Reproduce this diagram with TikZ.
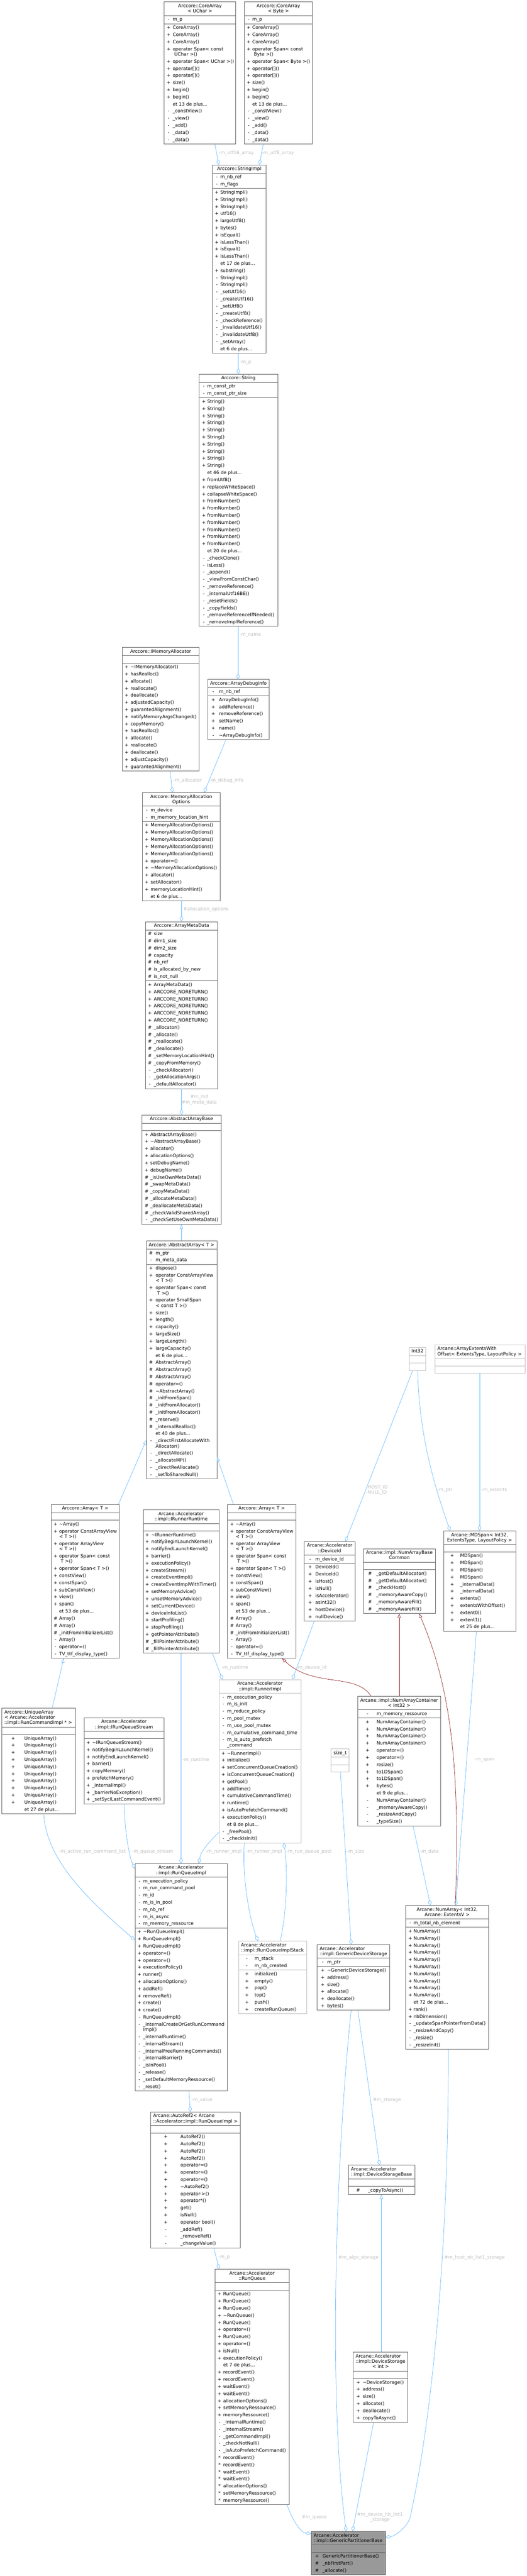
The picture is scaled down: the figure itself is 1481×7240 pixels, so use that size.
\documentclass[tikz,border=0pt]{standalone}
\usepackage{fontspec}
\setmainfont{DejaVu Sans}
\usetikzlibrary{shapes.multipart,arrows.meta}

\definecolor{edgeblue}{HTML}{63B8FF}
\definecolor{edgered}{HTML}{8B1A1A}
\definecolor{nodegray}{HTML}{666666}
\definecolor{nodelight}{HTML}{BFBFBF}
\definecolor{mainfill}{HTML}{999999}
\definecolor{lblgray}{HTML}{BEBEBE}

\newlength{\umpw}
\newcommand{\umrow}[2]{\makebox[\umpw][c]{#1}#2\\}
\newcommand{\umrowii}[3]{\makebox[\umpw][c]{#1}#2\\[-5pt]\makebox[\umpw][c]{}#3\\}
\newcommand{\umlist}[3]{\setlength{\umpw}{#2pt}\begin{tabular}{@{\hspace{#1pt}}l@{}}#3\end{tabular}}
\newcommand{\umtitle}[1]{\makebox[\linewidth][c]{\begin{tabular}{@{}c@{}}#1\end{tabular}}}
\newcommand{\umltitle}[1]{\hspace*{7pt}\begin{tabular}{@{}l@{}}#1\end{tabular}}
\newcommand{\umempty}{\rule{0pt}{18pt}}

\tikzset{
    cls/.style={rectangle split, rectangle split parts=3, draw=nodegray, line width=1pt, fill=white,
        inner xsep=0pt, inner ysep=1pt, anchor=north west, font=\fontsize{12.9}{20}\selectfont},
    clsext/.style={cls, draw=nodelight},
    clsmain/.style={cls, fill=mainfill},
    member/.style={draw=edgeblue, line width=1pt, -{Diamond[open, length=16pt, width=10pt]}},
    inherit/.style={draw=edgeblue, line width=1pt, -{Triangle[open, length=12pt, width=9pt]}},
    privinherit/.style={inherit, draw=edgered},
    lbl/.style={anchor=west, inner sep=0pt, text=lblgray, font=\fontsize{12.9}{15}\selectfont},
}

\begin{document}
\begin{tikzpicture}[x=1pt, y=-1pt]
    \path[fill=white, use as bounding box] (0,0) rectangle (1481,7240);

    \node[cls, text width=201pt] at (461,5) (coreuchar) {\umtitle{Arccore::CoreArray\\[-5pt]< UChar >}
        \nodepart{two}\umlist{1}{23}{\umrow{-}{m\_p}}
        \nodepart{three}\umlist{1}{23}{\umrow{+}{CoreArray()}\umrow{+}{CoreArray()}\umrow{+}{CoreArray()}
            \umrowii{+}{operator Span< const}{\ UChar >()}\umrow{+}{operator Span< UChar >()}
            \umrow{+}{operator[]()}\umrow{+}{operator[]()}\umrow{+}{size()}\umrow{+}{begin()}\umrow{+}{begin()}
            \umrow{}{et 13 de plus...}\umrow{-}{\_constView()}\umrow{-}{\_view()}\umrow{-}{\_add()}
            \umrow{-}{\_data()}\umrow{-}{\_data()}}};
    \node[cls, text width=190pt] at (687,5) (corebyte) {\umtitle{Arccore::CoreArray\\[-5pt]< Byte >}
        \nodepart{two}\umlist{1}{21}{\umrow{-}{m\_p}}
        \nodepart{three}\umlist{1}{21}{\umrow{+}{CoreArray()}\umrow{+}{CoreArray()}\umrow{+}{CoreArray()}
            \umrowii{+}{operator Span< const}{\ Byte >()}\umrow{+}{operator Span< Byte >()}
            \umrow{+}{operator[]()}\umrow{+}{operator[]()}\umrow{+}{size()}\umrow{+}{begin()}\umrow{+}{begin()}
            \umrow{}{et 13 de plus...}\umrow{-}{\_constView()}\umrow{-}{\_view()}\umrow{-}{\_add()}
            \umrow{-}{\_data()}\umrow{-}{\_data()}}};

    \node[cls, text width=150pt] at (597,463) (strimpl) {\umtitle{Arccore::StringImpl}
        \nodepart{two}\umlist{2}{20}{\umrow{-}{m\_nb\_ref}\umrow{-}{m\_flags}}
        \nodepart{three}\umlist{2}{20}{\umrow{+}{StringImpl()}\umrow{+}{StringImpl()}\umrow{+}{StringImpl()}
            \umrow{+}{utf16()}\umrow{+}{largeUtf8()}\umrow{+}{bytes()}\umrow{+}{isEqual()}\umrow{+}{isLessThan()}
            \umrow{+}{isEqual()}\umrow{+}{isLessThan()}\umrow{}{et 17 de plus...}\umrow{+}{substring()}
            \umrow{-}{StringImpl()}\umrow{-}{StringImpl()}\umrow{-}{\_setUtf16()}\umrow{-}{\_createUtf16()}
            \umrow{-}{\_setUtf8()}\umrow{-}{\_createUtf8()}\umrow{-}{\_checkReference()}
            \umrow{-}{\_invalidateUtf16()}\umrow{-}{\_invalidateUtf8()}\umrow{-}{\_setArray()}
            \umrow{}{et 6 de plus...}}};

    \node[cls, text width=221pt] at (559,1051) (string) {\umtitle{Arccore::String}
        \nodepart{two}\umlist{4}{19}{\umrow{-}{m\_const\_ptr}\umrow{-}{m\_const\_ptr\_size}}
        \nodepart{three}\umlist{4}{19}{\umrow{+}{String()}\umrow{+}{String()}\umrow{+}{String()}
            \umrow{+}{String()}\umrow{+}{String()}\umrow{+}{String()}\umrow{+}{String()}\umrow{+}{String()}
            \umrow{+}{String()}\umrow{+}{String()}\umrow{}{et 46 de plus...}\umrow{+}{fromUtf8()}
            \umrow{+}{replaceWhiteSpace()}\umrow{+}{collapseWhiteSpace()}\umrow{+}{fromNumber()}
            \umrow{+}{fromNumber()}\umrow{+}{fromNumber()}\umrow{+}{fromNumber()}\umrow{+}{fromNumber()}
            \umrow{+}{fromNumber()}\umrow{+}{fromNumber()}\umrow{}{et 20 de plus...}\umrow{-}{\_checkClone()}
            \umrow{-}{isLess()}\umrow{-}{\_append()}\umrow{-}{\_viewFromConstChar()}\umrow{-}{\_removeReference()}
            \umrow{-}{\_internalUtf16BE()}\umrow{-}{\_resetFields()}\umrow{-}{\_copyFields()}
            \umrow{-}{\_removeReferenceIfNeeded()}\umrow{-}{\_removeImplReference()}}};

    \node[cls, text width=216pt] at (343,1819) (imemalloc) {\umtitle{Arccore::IMemoryAllocator}
        \nodepart{two}\umempty
        \nodepart{three}\umlist{1.5}{22}{\umrow{+}{\textasciitilde IMemoryAllocator()}\umrow{+}{hasRealloc()}
            \umrow{+}{allocate()}\umrow{+}{reallocate()}\umrow{+}{deallocate()}\umrow{+}{adjustedCapacity()}
            \umrow{+}{guarantedAlignment()}\umrow{+}{notifyMemoryArgsChanged()}\umrow{+}{copyMemory()}
            \umrow{+}{hasRealloc()}\umrow{+}{allocate()}\umrow{+}{reallocate()}\umrow{+}{deallocate()}
            \umrow{+}{adjustCapacity()}\umrow{+}{guarantedAlignment()}}};
    \node[cls, text width=173pt] at (583,1909) (arraydebug) {\umtitle{Arccore::ArrayDebugInfo}
        \nodepart{two}\umlist{0}{32}{\umrow{-}{m\_nb\_ref}}
        \nodepart{three}\umlist{0}{32}{\umrow{+}{ArrayDebugInfo()}\umrow{+}{addReference()}
            \umrow{+}{removeReference()}\umrow{+}{setName()}\umrow{+}{name()}\umrow{-}{\textasciitilde ArrayDebugInfo()}}};

    \node[cls, text width=218pt] at (400,2227) (memallocopts) {\umtitle{Arccore::MemoryAllocation\\[-5pt]Options}
        \nodepart{two}\umlist{1}{22}{\umrow{-}{m\_device}\umrow{-}{m\_memory\_location\_hint}}
        \nodepart{three}\umlist{1}{22}{\umrow{+}{MemoryAllocationOptions()}\umrow{+}{MemoryAllocationOptions()}
            \umrow{+}{MemoryAllocationOptions()}\umrow{+}{MemoryAllocationOptions()}
            \umrow{+}{MemoryAllocationOptions()}\umrow{+}{operator=()}\umrow{+}{\textasciitilde MemoryAllocationOptions()}
            \umrow{+}{allocator()}\umrow{+}{setAllocator()}\umrow{+}{memoryLocationHint()}\umrow{}{et 6 de plus...}}};

    \node[cls, text width=202pt] at (409,2590) (arraymeta) {\umtitle{Arccore::ArrayMetaData}
        \nodepart{two}\umlist{0}{23}{\umrow{\#}{size}\umrow{\#}{dim1\_size}\umrow{\#}{dim2\_size}
            \umrow{\#}{capacity}\umrow{\#}{nb\_ref}\umrow{\#}{is\_allocated\_by\_new}\umrow{\#}{is\_not\_null}}
        \nodepart{three}\umlist{0}{23}{\umrow{+}{ArrayMetaData()}\umrow{+}{ARCCORE\_NORETURN()}
            \umrow{+}{ARCCORE\_NORETURN()}\umrow{+}{ARCCORE\_NORETURN()}\umrow{+}{ARCCORE\_NORETURN()}
            \umrow{+}{ARCCORE\_NORETURN()}\umrow{\#}{\_allocator()}\umrow{\#}{\_allocate()}\umrow{\#}{\_reallocate()}
            \umrow{\#}{\_deallocate()}\umrow{\#}{\_setMemoryLocationHint()}\umrow{\#}{\_copyFromMemory()}
            \umrow{-}{\_checkAllocator()}\umrow{-}{\_getAllocationArgs()}\umrow{-}{\_defaultAllocator()}}};

    \node[cls, text width=223pt] at (398,3133) (abstractbase) {\umtitle{Arccore::AbstractArrayBase}
        \nodepart{two}\umempty
        \nodepart{three}\umlist{3}{21}{\umrow{+}{AbstractArrayBase()}\umrow{+}{\textasciitilde AbstractArrayBase()}
            \umrow{+}{allocator()}\umrow{+}{allocationOptions()}\umrow{+}{setDebugName()}\umrow{+}{debugName()}
            \umrow{\#}{\_isUseOwnMetaData()}\umrow{\#}{\_swapMetaData()}\umrow{\#}{\_copyMetaData()}
            \umrow{\#}{\_allocateMetaData()}\umrow{\#}{\_deallocateMetaData()}\umrow{\#}{\_checkValidSharedArray()}
            \umrow{-}{\_checkSetUseOwnMetaData()}}};

    \node[cls, text width=198pt] at (411,3487) (abstractarray) {\umtitle{Arccore::AbstractArray< T >}
        \nodepart{two}\umlist{0}{26}{\umrow{\#}{m\_ptr}\umrow{-}{m\_meta\_data}}
        \nodepart{three}\umlist{0}{26}{\umrow{+}{dispose()}\umrowii{+}{operator ConstArrayView}{< T >()}
            \umrowii{+}{operator Span< const}{\ T >()}\umrowii{+}{operator SmallSpan}{< const T >()}
            \umrow{+}{size()}\umrow{+}{length()}\umrow{+}{capacity()}\umrow{+}{largeSize()}\umrow{+}{largeLength()}
            \umrow{+}{largeCapacity()}\umrow{}{et 6 de plus...}\umrow{\#}{AbstractArray()}\umrow{\#}{AbstractArray()}
            \umrow{\#}{AbstractArray()}\umrow{\#}{operator=()}\umrow{\#}{\textasciitilde AbstractArray()}
            \umrow{\#}{\_initFromSpan()}\umrow{\#}{\_initFromAllocator()}\umrow{\#}{\_initFromAllocator()}
            \umrow{\#}{\_reserve()}\umrow{\#}{\_internalRealloc()}\umrow{}{et 40 de plus...}
            \umrowii{-}{\_directFirstAllocateWith}{Allocator()}\umrow{-}{\_directAllocate()}\umrow{-}{\_allocateMP()}
            \umrow{-}{\_directReAllocate()}\umrow{-}{\_setToSharedNull()}}};

    \node[cls, text width=192pt] at (143,4228) (arrayl) {\umtitle{Arccore::Array< T >}
        \nodepart{two}\umempty
        \nodepart{three}\umlist{2}{21}{\umrow{+}{\textasciitilde Array()}\umrowii{+}{operator ConstArrayView}{< T >()}
            \umrowii{+}{operator ArrayView}{< T >()}\umrowii{+}{operator Span< const}{\ T >()}
            \umrow{+}{operator Span< T >()}\umrow{+}{constView()}\umrow{+}{constSpan()}\umrow{+}{subConstView()}
            \umrow{+}{view()}\umrow{+}{span()}\umrow{}{et 53 de plus...}\umrow{\#}{Array()}\umrow{\#}{Array()}
            \umrow{\#}{\_initFromInitializerList()}\umrow{-}{Array()}\umrow{-}{operator=()}
            \umrow{-}{TV\_ttf\_display\_type()}}};
    \node[cls, text width=213pt] at (402,4243) (irunnerrt) {\umtitle{Arcane::Accelerator\\[-5pt]::impl::IRunnerRuntime}
        \nodepart{two}\umempty
        \nodepart{three}\umlist{0}{23}{\umrow{+}{\textasciitilde IRunnerRuntime()}\umrow{+}{notifyBeginLaunchKernel()}
            \umrow{+}{notifyEndLaunchKernel()}\umrow{+}{barrier()}\umrow{+}{executionPolicy()}\umrow{+}{createStream()}
            \umrow{+}{createEventImpl()}\umrow{+}{createEventImplWithTimer()}\umrow{+}{setMemoryAdvice()}
            \umrow{+}{unsetMemoryAdvice()}\umrow{+}{setCurrentDevice()}\umrow{+}{deviceInfoList()}
            \umrow{+}{startProfiling()}\umrow{+}{stopProfiling()}\umrow{+}{getPointerAttribute()}
            \umrow{\#}{\_fillPointerAttribute()}\umrow{\#}{\_fillPointerAttribute()}}};
    \node[cls, text width=192pt] at (639,4228) (arrayr) {\umtitle{Arccore::Array< T >}
        \nodepart{two}\umempty
        \nodepart{three}\umlist{2}{21}{\umrow{+}{\textasciitilde Array()}\umrowii{+}{operator ConstArrayView}{< T >()}
            \umrowii{+}{operator ArrayView}{< T >()}\umrowii{+}{operator Span< const}{\ T >()}
            \umrow{+}{operator Span< T >()}\umrow{+}{constView()}\umrow{+}{constSpan()}\umrow{+}{subConstView()}
            \umrow{+}{view()}\umrow{+}{span()}\umrow{}{et 53 de plus...}\umrow{\#}{Array()}\umrow{\#}{Array()}
            \umrow{\#}{\_initFromInitializerList()}\umrow{-}{Array()}\umrow{-}{operator=()}
            \umrow{-}{TV\_ttf\_display\_type()}}};
    \node[cls, text width=142pt] at (855,4332) (deviceid) {\umtitle{Arcane::Accelerator\\[-5pt]::DeviceId}
        \nodepart{two}\umlist{2}{29}{\umrow{-}{m\_device\_id}}
        \nodepart{three}\umlist{2}{29}{\umrow{+}{DeviceId()}\umrow{+}{DeviceId()}\umrow{+}{isHost()}
            \umrow{+}{isNull()}\umrow{+}{isAccelerator()}\umrow{+}{asInt32()}\umrow{+}{hostDevice()}
            \umrow{+}{nullDevice()}}};

    \node[clsext, text width=46pt] at (1150,3786) (int32) {\umtitle{Int32}
        \nodepart{two}\umempty
        \nodepart{three}\umempty};
    \node[clsext, text width=253pt] at (1222,3779) (extents) {\umltitle{Arcane::ArrayExtentsWith\\[-5pt]Offset< ExtentsType, LayoutPolicy >}
        \nodepart{two}\umempty
        \nodepart{three}\umempty};
    \node[cls, text width=203pt] at (1246,4302) (mdspan) {\umtitle{Arcane::MDSpan< Int32,\\[-5pt]ExtentsType, LayoutPolicy >}
        \nodepart{two}\umempty
        \nodepart{three}\umlist{2}{45}{\umrow{+}{MDSpan()}\umrow{+}{MDSpan()}\umrow{+}{MDSpan()}\umrow{+}{MDSpan()}
            \umrow{+}{\_internalData()}\umrow{+}{\_internalData()}\umrow{+}{extents()}\umrow{+}{extentsWithOffset()}
            \umrow{+}{extent0()}\umrow{+}{extent1()}\umrow{}{et 25 de plus...}}};
    \node[cls, text width=202pt] at (1021,4352) (numbase) {\umtitle{Arcane::impl::NumArrayBase\\[-5pt]Common}
        \nodepart{two}\umempty
        \nodepart{three}\umlist{1}{35}{\umrow{\#}{\_getDefaultAllocator()}\umrow{\#}{\_getDefaultAllocator()}
            \umrow{\#}{\_checkHost()}\umrow{\#}{\_memoryAwareCopy()}\umrow{\#}{\_memoryAwareFill()}
            \umrow{\#}{\_memoryAwareFill()}}};

    \node[clsext, text width=230pt] at (615,4720) (runnerimpl) {\umtitle{Arcane::Accelerator\\[-5pt]::impl::RunnerImpl}
        \nodepart{two}\umlist{2}{21}{\umrow{-}{m\_execution\_policy}\umrow{-}{m\_is\_init}\umrow{-}{m\_reduce\_policy}
            \umrow{-}{m\_pool\_mutex}\umrow{-}{m\_use\_pool\_mutex}\umrow{-}{m\_cumulative\_command\_time}
            \umrowii{-}{m\_is\_auto\_prefetch}{\_command}}
        \nodepart{three}\umlist{2}{21}{\umrow{+}{\textasciitilde RunnerImpl()}\umrow{+}{initialize()}
            \umrow{+}{setConcurrentQueueCreation()}\umrow{+}{isConcurrentQueueCreation()}\umrow{+}{getPool()}
            \umrow{+}{addTime()}\umrow{+}{cumulativeCommandTime()}\umrow{+}{runtime()}
            \umrow{+}{isAutoPrefetchCommand()}\umrow{+}{executionPolicy()}\umrow{}{et 8 de plus...}
            \umrow{-}{\_freePool()}\umrow{-}{\_checkIsInit()}}};
    \node[cls, text width=233pt] at (1005,4767) (numcont) {\umtitle{Arcane::impl::NumArrayContainer\\[-5pt]< Int32 >}
        \nodepart{two}\umlist{2}{51}{\umrow{-}{m\_memory\_ressource}}
        \nodepart{three}\umlist{2}{51}{\umrow{+}{NumArrayContainer()}\umrow{+}{NumArrayContainer()}
            \umrow{+}{NumArrayContainer()}\umrow{+}{NumArrayContainer()}\umrow{+}{operator=()}\umrow{+}{operator=()}
            \umrow{+}{resize()}\umrow{+}{to1DSpan()}\umrow{+}{to1DSpan()}\umrow{+}{bytes()}\umrow{}{et 9 de plus...}
            \umrow{-}{NumArrayContainer()}\umrow{-}{\_memoryAwareCopy()}\umrow{-}{\_resizeAndCopy()}
            \umrow{-}{\_typeSize()}}};

    \node[cls, text width=207pt] at (5,4800) (uniquearr) {\umltitle{Arccore::UniqueArray\\[-5pt]< Arcane::Accelerator\\[-5pt]::impl::RunCommandImpl * >}
        \nodepart{two}\umempty
        \nodepart{three}\umlist{0}{63}{\umrow{+}{UniqueArray()}\umrow{+}{UniqueArray()}\umrow{+}{UniqueArray()}
            \umrow{+}{UniqueArray()}\umrow{+}{UniqueArray()}\umrow{+}{UniqueArray()}\umrow{+}{UniqueArray()}
            \umrow{+}{UniqueArray()}\umrow{+}{UniqueArray()}\umrow{+}{UniqueArray()}\umrow{}{et 27 de plus...}}};
    \node[cls, text width=224pt] at (236,4827) (irqstream) {\umtitle{Arcane::Accelerator\\[-5pt]::impl::IRunQueueStream}
        \nodepart{two}\umempty
        \nodepart{three}\umlist{0}{23}{\umrow{+}{\textasciitilde IRunQueueStream()}\umrow{+}{notifyBeginLaunchKernel()}
            \umrow{+}{notifyEndLaunchKernel()}\umrow{+}{barrier()}\umrow{+}{copyMemory()}\umrow{+}{prefetchMemory()}
            \umrow{+}{\_internalImpl()}\umrow{+}{\_barrierNoException()}\umrow{+}{\_setSyclLastCommandEvent()}}};
    \node[clsext, text width=51pt] at (930,4915) (sizet) {\umtitle{size\_t}
        \nodepart{two}\umempty
        \nodepart{three}\umempty};

    \node[cls, text width=259pt] at (379,5237) (rqimpl) {\umtitle{Arcane::Accelerator\\[-5pt]::impl::RunQueueImpl}
        \nodepart{two}\umlist{2}{21}{\umrow{-}{m\_execution\_policy}\umrow{-}{m\_run\_command\_pool}\umrow{-}{m\_id}
            \umrow{-}{m\_is\_in\_pool}\umrow{-}{m\_nb\_ref}\umrow{-}{m\_is\_async}\umrow{-}{m\_memory\_ressource}}
        \nodepart{three}\umlist{2}{21}{\umrow{+}{\textasciitilde RunQueueImpl()}\umrow{+}{RunQueueImpl()}
            \umrow{+}{RunQueueImpl()}\umrow{+}{operator=()}\umrow{+}{operator=()}\umrow{+}{executionPolicy()}
            \umrow{+}{runner()}\umrow{+}{allocationOptions()}\umrow{+}{addRef()}\umrow{+}{removeRef()}
            \umrow{+}{create()}\umrow{+}{create()}\umrow{-}{RunQueueImpl()}
            \umrowii{-}{\_internalCreateOrGetRunCommand}{Impl()}\umrow{-}{\_internalRuntime()}
            \umrow{-}{\_internalStream()}\umrow{-}{\_internalFreeRunningCommands()}\umrow{-}{\_internalBarrier()}
            \umrow{-}{\_isInPool()}\umrow{-}{\_release()}\umrow{-}{\_setDefaultMemoryRessource()}\umrow{-}{\_reset()}}};
    \node[clsext, text width=191pt] at (670,5455) (rqstack) {\umltitle{Arcane::Accelerator\\[-5pt]::impl::RunQueueImplStack}
        \nodepart{two}\umlist{2}{43}{\umrow{-}{m\_stack}\umrow{-}{m\_nb\_created}}
        \nodepart{three}\umlist{2}{43}{\umrow{+}{initialize()}\umrow{+}{empty()}\umrow{+}{pop()}\umrow{+}{top()}
            \umrow{+}{push()}\umrow{+}{createRunQueue()}}};
    \node[cls, text width=204pt] at (891,5465) (gendevst) {\umltitle{Arcane::Accelerator\\[-5pt]::impl::GenericDeviceStorage}
        \nodepart{two}\umlist{3}{25}{\umrow{-}{m\_ptr}}
        \nodepart{three}\umlist{3}{25}{\umrow{+}{\textasciitilde GenericDeviceStorage()}\umrow{+}{address()}
            \umrow{+}{size()}\umrow{+}{allocate()}\umrow{+}{deallocate()}\umrow{+}{bytes()}}};
    \node[cls, text width=233pt] at (1140,5355) (numarray) {\umtitle{Arcane::NumArray< Int32,\\[-5pt]Arcane::ExtentsV >}
        \nodepart{two}\umlist{3}{19}{\umrow{-}{m\_total\_nb\_element}}
        \nodepart{three}\umlist{3}{19}{\umrow{+}{NumArray()}\umrow{+}{NumArray()}\umrow{+}{NumArray()}
            \umrow{+}{NumArray()}\umrow{+}{NumArray()}\umrow{+}{NumArray()}\umrow{+}{NumArray()}\umrow{+}{NumArray()}
            \umrow{+}{NumArray()}\umrow{+}{NumArray()}\umrow{}{et 72 de plus...}\umrow{+}{rank()}
            \umrow{+}{nbDimension()}\umrow{-}{\_updateSpanPointerFromData()}\umrow{-}{\_resizeAndCopy()}
            \umrow{-}{\_resize()}\umrow{-}{\_resizeInit()}}};

    \node[cls, text width=252pt] at (423,5935) (autoref) {\umltitle{Arcane::AutoRef2< Arcane\\[-5pt]::Accelerator::impl::RunQueueImpl >}
        \nodepart{two}\umempty
        \nodepart{three}\umlist{1}{83}{\umrow{+}{AutoRef2()}\umrow{+}{AutoRef2()}\umrow{+}{AutoRef2()}
            \umrow{+}{AutoRef2()}\umrow{+}{operator=()}\umrow{+}{operator=()}\umrow{+}{operator=()}
            \umrow{+}{\textasciitilde AutoRef2()}\umrow{+}{operator->()}\umrow{+}{operator*()}\umrow{+}{get()}
            \umrow{+}{isNull()}\umrow{+}{operator bool()}\umrow{-}{\_addRef()}\umrow{-}{\_removeRef()}
            \umrow{-}{\_changeValue()}}};
    \node[cls, text width=187pt] at (979,6085) (devstbase) {\umltitle{Arcane::Accelerator\\[-5pt]::impl::DeviceStorageBase}
        \nodepart{two}\umempty
        \nodepart{three}\umlist{0}{55}{\umrow{\#}{\_copyToAsync()}}};

    \node[cls, text width=208pt] at (604,6377) (runqueue) {\umtitle{Arcane::Accelerator\\[-5pt]::RunQueue}
        \nodepart{two}\umempty
        \nodepart{three}\umlist{2}{21}{\umrow{+}{RunQueue()}\umrow{+}{RunQueue()}\umrow{+}{RunQueue()}
            \umrow{+}{\textasciitilde RunQueue()}\umrow{+}{RunQueue()}\umrow{+}{operator=()}\umrow{+}{RunQueue()}
            \umrow{+}{operator=()}\umrow{+}{isNull()}\umrow{+}{executionPolicy()}\umrow{}{et 7 de plus...}
            \umrow{+}{recordEvent()}\umrow{+}{recordEvent()}\umrow{+}{waitEvent()}\umrow{+}{waitEvent()}
            \umrow{+}{allocationOptions()}\umrow{+}{setMemoryRessource()}\umrow{+}{memoryRessource()}
            \umrow{-}{\_internalRuntime()}\umrow{-}{\_internalStream()}\umrow{-}{\_getCommandImpl()}
            \umrow{-}{\_checkNotNull()}\umrow{-}{\_isAutoPrefetchCommand()}\umrow{*}{recordEvent()}
            \umrow{*}{recordEvent()}\umrow{*}{waitEvent()}\umrow{*}{waitEvent()}\umrow{*}{allocationOptions()}
            \umrow{*}{setMemoryRessource()}\umrow{*}{memoryRessource()}}};
    \node[cls, text width=154pt] at (992,6610) (devstorage) {\umltitle{Arcane::Accelerator\\[-5pt]::impl::DeviceStorage\\[-5pt]\hspace*{47pt}< int >}
        \nodepart{two}\umempty
        \nodepart{three}\umlist{2}{25}{\umrow{+}{\textasciitilde DeviceStorage()}\umrow{+}{address()}\umrow{+}{size()}
            \umrow{+}{allocate()}\umrow{+}{deallocate()}\umrow{+}{copyToAsync()}}};

    \node[clsmain, text width=209pt] at (874,7114) (gpb) {\umltitle{Arcane::Accelerator\\[-5pt]::impl::GenericPartitionerBase}
        \nodepart{two}\umempty
        \nodepart{three}\umlist{1}{31}{\umrow{+}{GenericPartitionerBase()}\umrow{\#}{\_nbFirstPart()}
            \umrow{\#}{\_allocate()}}};

    \draw[member] (coreuchar.south -| 604,0) -- (strimpl.north -| 615,0);
    \node[lbl] at (615,431) (lutfsixteen) {-m\_utf16\_array};
    \draw[member] (corebyte.south -| 740,0) -- (strimpl.north -| 729,0);
    \node[lbl] at (736,431) (lutfeight) {-m\_utf8\_array};
    \draw[member] (strimpl.south -| 670,0) -- (string.north -| 670,0);
    \node[lbl] at (674,1019) (lstrp) {-m\_p};
    \draw[member] (string.south -| 669,0) -- (arraydebug.north -| 669,0);
    \node[lbl] at (673,1786) (lname) {-m\_name};
    \draw[member] (imemalloc.south -| 478,0) -- (memallocopts.north -| 485,0);
    \node[lbl] at (487,2194) (lallocator) {-m\_allocator};
    \draw[member] (arraydebug.south -| 635,0) -- (memallocopts.north -| 574,0);
    \node[lbl] at (589,2194) (ldebuginfo) {-m\_debug\_info};
    \draw[member] (memallocopts.south -| 510,0) -- (arraymeta.north -| 510,0);
    \node[lbl] at (515,2556) (lallocopts) {\#allocation\_options};
    \draw[member] (arraymeta.south -| 510,0) -- (abstractbase.north -| 510,0);
    \node[lbl, anchor=center, align=center] at (560,3091) (lmetadata) {\#m\_md\\\#m\_meta\_data};

    \draw[inherit] (abstractarray.north -| 510,0) -- (abstractbase.south -| 510,0);
    \draw[inherit] (arrayl.north -| 333,0) -- (abstractarray.west |- 0,4048);
    \draw[inherit] (arrayr.north -| 656,0) -- (abstractarray.east |- 0,4095);
    \draw[inherit] (uniquearr.north -| 147,0) -- (arrayl.south -| 179,0);
    \draw[privinherit] (numcont.north -| 1043,0) .. controls (1000,4700) and (880,4745) .. (arrayr.south -| 793,0);
    \draw[privinherit] (numcont.north -| 1122,0) -- (numbase.south -| 1122,0);
    \draw[privinherit] (numarray.north -| 1280,0) .. controls (1292,5000) and (1275,4760) .. (numbase.south -| 1178,0);

    \draw[member] (int32.south -| 1160,0) -- (deviceid.north -| 971,0);
    \node[lbl, align=left] at (1029,4188) (lhostid) {-HOST\_ID\\-NULL\_ID};
    \draw[member] (int32.south -| 1174,0) .. controls (1178,4050) and (1230,4200) .. (mdspan.north -| 1265,0);
    \node[lbl] at (1229,4188) (lmptr) {-m\_ptr};
    \draw[member] (extents.south -| 1348,0) -- (mdspan.north -| 1348,0);
    \node[lbl] at (1353,4188) (lextents) {-m\_extents};
    \draw[member] (irunnerrt.south -| 597,0) -- (runnerimpl.north -| 625,0);
    \node[lbl] at (623,4687) (lruntimea) {-m\_runtime};
    \draw[member] (deviceid.south -| 883,0) -- (runnerimpl.north -| 822,0);
    \node[lbl] at (833,4687) (ldeviceid) {-m\_device\_id};
    \draw[member] (irunnerrt.south -| 509,0) -- (rqimpl.north -| 509,0);
    \node[lbl] at (513,4947) (lruntimeb) {-m\_runtime};
    \draw[member] (mdspan.south -| 1339,0) -- (numarray.north -| 1281,0);
    \node[lbl] at (1334,4947) (lspan) {-m\_span};

    \draw[member] (irqstream.south -| 349,0) .. controls (350,5140) and (362,5215) .. (rqimpl.west |- 0,5252);
    \node[lbl] at (371,5204) (lqueuestream) {-m\_queue\_stream};
    \draw[member] (uniquearr.south -| 123,0) .. controls (130,5230) and (250,5340) .. (rqimpl.west |- 0,5453);
    \node[lbl] at (166,5204) (lactivelist) {-m\_active\_run\_command\_list};
    \draw[member] (runnerimpl.west |- 0,5150) .. controls (595,5170) and (565,5200) .. (rqimpl.north -| 559,0);
    \node[lbl] at (578,5204) (lrunnera) {-m\_runner\_impl};
    \draw[member] (runnerimpl.south -| 687,0) .. controls (680,5270) and (700,5390) .. (rqstack.north -| 725,0);
    \node[lbl] at (692,5204) (lrunnerb) {-m\_runner\_impl};
    \draw[member] (rqstack.north -| 788,0) .. controls (808,5360) and (808,5250) .. (runnerimpl.south -| 798,0);
    \node[lbl] at (805,5204) (lqueuepool) {-m\_run\_queue\_pool};
    \draw[member] (sizet.south -| 957,0) -- (gendevst.north -| 987,0);
    \node[lbl] at (975,5204) (lsize) {-m\_size};
    \draw[member] (numcont.south -| 1161,0) -- (numarray.north -| 1210,0);
    \node[lbl] at (1180,5204) (ldata) {-m\_data};

    \draw[member] (rqimpl.south -| 531,0) -- (autoref.north -| 535,0);
    \node[lbl] at (538,5902) (lvalue) {-m\_value};
    \draw[member] (gendevst.south -| 1006,0) -- (devstbase.north -| 1067,0);
    \node[lbl] at (1048,5902) (lstorage) {\#m\_storage};
    \draw[inherit] (devstorage.north -| 1072,0) -- (devstbase.south -| 1072,0);
    \draw[member] (autoref.south -| 601,0) -- (runqueue.north -| 616,0);
    \node[lbl] at (614,6345) (lrefp) {-m\_p};

    \draw[member] (gendevst.south -| 987,0) .. controls (950,6000) and (918,6700) .. (gpb.north -| 973,0);
    \node[lbl] at (951,6345) (lalgo) {\#m\_algo\_storage};
    \draw[member] (numarray.south -| 1260,0) .. controls (1262,6300) and (1215,6800) .. (1152,7078)
        .. controls (1140,7108) and (1108,7128) .. (gpb.east |- 0,7131);
    \node[lbl] at (1249,6345) (lhostnb) {\#m\_host\_nb\_list1\_storage};
    \draw[member] (devstorage.south -| 1050,0) -- (gpb.north -| 991,0);
    \node[lbl, anchor=center, align=center] at (1068,7075) (ldevicenb) {\#m\_device\_nb\_list1\\\_storage};
    \draw[member] (runqueue.south -| 807,0) .. controls (820,7080) and (845,7118) .. (gpb.west |- 0,7121);
    \node[lbl] at (848,7075) (lqueue) {\#m\_queue};
\end{tikzpicture}
\end{document}
